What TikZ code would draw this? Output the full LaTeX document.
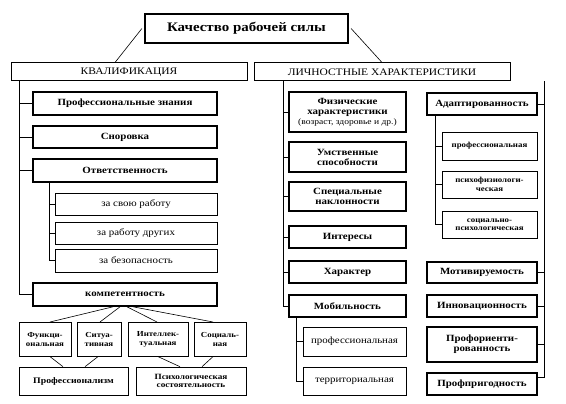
\documentclass[tikz,border=0pt]{standalone}
\usepackage{fontspec}
\setmainfont[FakeStretch=1.15]{Liberation Serif}
\begin{document}
\begin{tikzpicture}[x=1pt,y=-1pt,
  base/.style={draw, fill=white, inner sep=1pt, align=center, font=\fontsize{9.5}{10}\selectfont},
  thk/.style={base, line width=1.6pt, font=\fontsize{9.5}{10}\selectfont\bfseries},
  thn/.style={base, line width=0.6pt},
  sml/.style={base, line width=0.6pt, font=\fontsize{7.7}{8.5}\selectfont\bfseries},
  ln/.style={line width=0.6pt}]
\useasboundingbox (0,0) rectangle (566,404);
% top
\node[base, line width=2.2pt, minimum width=203pt, minimum height=29pt, font=\fontsize{13}{15}\selectfont\bfseries] (top) at (246.5,28.5) {Качество рабочей силы};
\node[thn, line width=1pt, minimum width=236pt, minimum height=18pt, font=\fontsize{10}{11}\selectfont] (kval) at (129,72) {КВАЛИФИКАЦИЯ};
\node[thn, line width=1pt, minimum width=256pt, minimum height=18pt, font=\fontsize{10}{11}\selectfont] (lich) at (382,72) {ЛИЧНОСТНЫЕ ХАРАКТЕРИСТИКИ};
\draw[ln] (top.west) ++(-2,0) coordinate (tl) -- (kval.north -| 115,0);
\draw[ln] (top.east) ++(2,0) coordinate (tr) -- (lich.north -| 382,0);
% left column
\node[thk, minimum width=184pt, minimum height=23pt] (pz) at (125,103.5) {Профессиональные знания};
\node[thk, minimum width=184pt, minimum height=22pt] (snor) at (125,137) {Сноровка};
\node[thk, minimum width=184pt, minimum height=23pt] (otv) at (125,170.5) {Ответственность};
\node[thn, minimum width=162pt, minimum height=22pt] (z1) at (136,204) {за свою работу};
\node[thn, minimum width=162pt, minimum height=22pt] (z2) at (136,233) {за работу других};
\node[thn, minimum width=162pt, minimum height=23pt] (z3) at (136,260.5) {за безопасность};
\node[thk, minimum width=184pt, minimum height=23pt] (komp) at (125,294.5) {компетентность};
\node[sml, minimum width=52pt, minimum height=34pt, anchor=north] (f) at (45,322) {Функци-\\ональная};
\node[sml, minimum width=44pt, minimum height=34pt, anchor=north] (s) at (99,322) {Ситуа-\\тивная};
\node[sml, minimum width=60pt, minimum height=34pt, anchor=north] (i) at (158,322) {Интеллек-\\туальная};
\node[sml, minimum width=52pt, minimum height=34pt, anchor=north] (soc) at (220,322) {Социаль-\\ная};
\node[thn, minimum width=109pt, minimum height=28pt, font=\fontsize{8.5}{9.5}\selectfont\bfseries] (prof) at (73.5,381) {Профессионализм};
\node[thn, minimum width=110pt, minimum height=28pt, font=\fontsize{8}{8.5}\selectfont\bfseries] (psy) at (191,381) {Психологическая\\состоятельность};
% left connectors
\coordinate (xL) at (19,0);
\draw[ln] (kval.south -| xL) |- (komp.west);
\foreach \n in {pz,snor,otv} \draw[ln] (xL |- \n.west) -- (\n.west);
\coordinate (xZ) at (49,0);
\draw[ln] (otv.south -| xZ) |- (z3.west);
\foreach \n in {z1,z2} \draw[ln] (xZ |- \n.west) -- (\n.west);
\draw[ln] ([xshift=-12pt]komp.south) -- ([xshift=5pt]f.north);
\draw[ln] ([xshift=-5pt]komp.south) -- ([xshift=1pt]s.north);
\draw[ln] ([xshift=2pt]komp.south) -- ([xshift=-1pt]i.north);
\draw[ln] ([xshift=8pt]komp.south) -- ([xshift=-7pt]soc.north);
\draw[ln] ([xshift=5pt]f.south) -- ([xshift=-10.5pt]prof.north);
\draw[ln] ([xshift=-1pt]s.south) -- ([xshift=11.5pt]prof.north);
\draw[ln] (i.south) -- ([xshift=-11pt]psy.north);
\draw[ln] ([xshift=-7pt]soc.south) -- ([xshift=11pt]psy.north);
% right column
\node[thk, minimum width=117pt, minimum height=40pt] (fiz) at (347.5,112) {Физические\\характеристики\\{\fontsize{8.3}{9}\selectfont\mdseries (возраст, здоровье и др.)}};
\node[thk, minimum width=117pt, minimum height=30pt] (um) at (347.5,157) {Умственные\\способности};
\node[thk, minimum width=117pt, minimum height=29pt] (spec) at (347.5,196.5) {Специальные\\наклонности};
\node[thk, minimum width=117pt, minimum height=22pt] (int) at (347.5,237) {Интересы};
\node[thk, minimum width=117pt, minimum height=22pt] (har) at (347.5,272) {Характер};
\node[thk, line width=1.2pt, minimum width=117pt, minimum height=22pt] (mob) at (347.5,306) {Мобильность};
\node[thn, minimum width=103pt, minimum height=29pt] (mp) at (354.5,341.5) {профессиональная};
\node[thn, minimum width=103pt, minimum height=28pt] (mt) at (354.5,381) {территориальная};
\node[thk, minimum width=110pt, minimum height=22pt] (adapt) at (482,104) {Адаптированность};
\node[sml, minimum width=95pt, minimum height=28pt] (a1) at (489.5,146) {профессиональная};
\node[sml, minimum width=95pt, minimum height=27pt] (a2) at (489.5,184.5) {психофизиологи-\\ческая};
\node[sml, minimum width=95pt, minimum height=27pt] (a3) at (489.5,224.5) {социально-\\психологическая};
\node[thk, minimum width=110pt, minimum height=21pt] (motiv) at (482,272.5) {Мотивируемость};
\node[thk, minimum width=110pt, minimum height=22pt] (innov) at (482,306) {Инновационность};
\node[thk, minimum width=110pt, minimum height=35pt] (porient) at (482,344.5) {Профориенти-\\рованность};
\node[thk, minimum width=110pt, minimum height=22pt] (pprig) at (482,384) {Профпригодность};
% right connectors
\coordinate (xR) at (283,0);
\draw[ln] (lich.south -| xR) |- (mob.west);
\foreach \n in {fiz,um,spec,int,har} \draw[ln] (xR |- \n.west) -- (\n.west);
\coordinate (xM) at (296,0);
\draw[ln] (mob.south -| xM) |- (mt.west);
\draw[ln] (xM |- mp.west) -- (mp.west);
\coordinate (xA) at (435,0);
\draw[ln] (adapt.south -| xA) |- (a3.west);
\foreach \n in {a1,a2} \draw[ln] (xA |- \n.west) -- (\n.west);
\coordinate (xO) at (544,0);
\draw[ln] (lich.south -| xO) |- ([yshift=7pt]pprig.east);
\foreach \n in {adapt,motiv,innov,porient} \draw[ln] (xO |- \n.east) -- (\n.east);
\end{tikzpicture}
\end{document}
